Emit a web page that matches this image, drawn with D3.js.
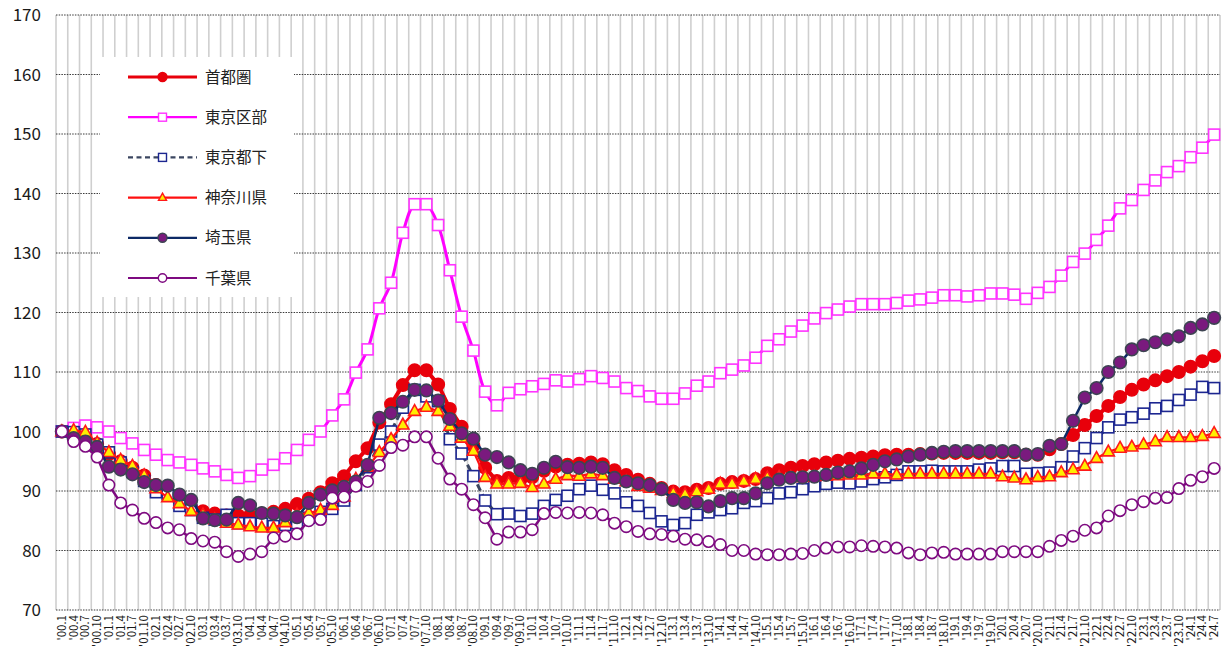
<!DOCTYPE html>
<html><head><meta charset="utf-8">
<script src="https://cdn.jsdelivr.net/npm/d3@7"></script>
<style>body{margin:0;background:#fff}svg{display:block}</style>
</head><body><svg id="c" width="1226" height="661"></svg>
<script>
const labels = ["'00.1","'00.4","'00.7","'00.10","'01.1","'01.4","'01.7","'01.10","'02.1","'02.4","'02.7","'02.10","'03.1","'03.4","'03.7","'03.10","'04.1","'04.4","'04.7","'04.10","'05.1","'05.4","'05.7","'05.10","'06.1","'06.4","'06.7","'06.10","'07.1","'07.4","'07.7","'07.10","'08.1","'08.4","'08.7","'08.10","'09.1","'09.4","'09.7","'09.10","'10.1","'10.4","'10.7","'10.10","'11.1","'11.4","'11.7","'11.10","'12.1","'12.4","'12.7","'12.10","'13.1","'13.4","'13.7","'13.10","'14.1","'14.4","'14.7","'14.10","'15.1","'15.4","'15.7","'15.10","'16.1","'16.4","'16.7","'16.10","'17.1","'17.4","'17.7","'17.10","'18.1","'18.4","'18.7","'18.10","'19.1","'19.4","'19.7","'19.10","'20.1","'20.4","'20.7","'20.10","'21.1","'21.4","'21.7","'21.10","'22.1","'22.4","'22.7","'22.10","'23.1","'23.4","'23.7","'23.10","'24.1","'24.4","'24.7"];
const yTicks = [70,80,90,100,110,120,130,140,150,160,170];

const shutoken = [100,99.9,99.4,97.9,96.2,95.0,93.9,92.6,91.0,89.5,88.4,87.2,86.6,86.2,85.9,85.9,85.9,86.2,86.5,87.0,87.8,88.7,89.8,91.3,92.5,95.0,97.2,101.5,104.6,107.8,110.3,110.3,107.9,103.8,100.8,97.6,93.9,91.7,92.2,91.9,92.3,93.4,94.1,94.4,94.6,94.8,94.5,93.5,92.7,91.9,91.2,90.5,89.9,89.8,90.2,90.5,91.2,91.5,91.7,92.0,93.0,93.5,93.9,94.2,94.5,94.8,95.1,95.4,95.6,95.8,96.0,96.1,96.1,96.2,96.3,96.4,96.4,96.4,96.4,96.4,96.5,96.5,96.1,96.1,97.0,97.9,99.4,101.1,102.6,104.3,105.8,107.0,107.9,108.6,109.3,110.0,110.9,111.8,112.7];
const kubu = [100,100.6,101.0,100.7,100.0,98.9,98.0,96.9,96.1,95.2,94.8,94.4,93.8,93.3,92.7,92.2,92.5,93.6,94.4,95.5,96.9,98.6,100.0,102.7,105.4,109.9,113.8,120.7,125.0,133.4,138.2,138.2,134.7,127.1,119.3,113.6,106.7,104.4,106.5,107.1,107.6,108.0,108.6,108.4,108.8,109.3,109.0,108.4,107.3,106.8,105.9,105.5,105.5,106.4,107.7,108.4,109.8,110.4,111.1,112.4,114.4,115.5,116.8,117.8,119.0,119.9,120.5,121.0,121.4,121.4,121.4,121.6,122.0,122.2,122.5,122.9,122.9,122.7,122.9,123.2,123.2,123.0,122.3,123.3,124.3,126.2,128.5,129.9,132.2,134.6,137.5,138.9,140.6,142.2,143.6,144.6,146.1,147.7,149.9];
const tokai = [100,99.9,99.5,97.8,96.5,94.8,93.2,91.7,89.8,89.5,87.5,86.8,85.5,85.2,86.0,84.6,84.6,84.5,84.1,84.3,84.6,85.5,86.5,87.0,88.4,91.0,94.0,97.8,100.0,104.0,107.0,105.9,105.1,98.7,96.3,92.5,88.4,86.1,86.2,85.8,86.2,87.5,88.5,89.2,90.3,90.9,90.2,89.6,88.1,87.5,86.3,84.9,84.3,84.6,86.0,86.4,86.8,87.1,88.0,88.3,88.8,89.6,89.8,90.3,90.8,91.2,91.4,91.3,91.6,92.0,92.3,92.7,93.3,93.3,93.4,93.3,93.3,93.3,93.6,93.8,94.2,94.2,92.9,93.0,93.1,94.0,95.8,97.2,98.9,100.7,102.0,102.4,103.0,103.9,104.3,105.3,106.2,107.5,107.3];
const kanagawa = [100,100.2,99.9,98.1,96.5,95.2,94.2,92.6,90.4,88.9,87.9,86.6,86.0,85.2,84.6,84.3,84.0,83.8,83.8,84.7,86.0,86.3,86.8,87.6,89.0,92.0,94.0,96.5,98.7,101.1,103.4,104.1,103.4,100.9,98.9,96.7,92.3,91.2,91.2,91.3,90.6,91.2,92.0,92.6,92.5,92.9,92.6,92.0,91.6,90.8,90.5,90.1,89.6,89.4,89.9,90.3,91.2,91.2,91.6,92.0,92.2,92.3,92.3,92.3,92.4,92.5,92.6,92.7,92.7,92.9,92.9,92.7,92.9,92.9,92.9,92.9,92.9,92.9,92.9,92.9,92.4,92.2,91.9,92.3,92.4,93.1,93.6,94.2,95.5,96.6,97.2,97.4,97.8,98.3,99.0,99.0,99.0,99.2,99.7];
const saitama = [100,98.9,98.3,97.4,94.1,93.6,92.8,91.5,91.0,90.9,89.4,88.5,85.4,85.1,85.2,88.0,87.6,86.3,86.2,85.9,85.6,88.0,89.4,90.1,90.7,91.6,94.4,102.3,103.1,105.0,107.0,106.9,105.2,102.1,99.7,98.8,96.1,95.7,94.8,93.5,92.9,93.9,94.9,94.0,93.9,94.1,93.9,92.2,91.6,91.3,91.0,90.3,88.5,88.0,88.1,87.4,88.3,88.8,88.8,89.6,91.3,91.9,92.2,92.3,92.4,92.7,93.1,93.3,93.8,94.4,95.0,95.3,95.8,96.1,96.4,96.6,96.7,96.7,96.7,96.7,96.7,96.7,96.1,96.2,97.6,97.9,101.8,105.7,107.3,110.0,111.6,113.8,114.5,115.0,115.5,116.0,117.4,118.0,119.1];
const chiba = [100,98.3,97.5,95.7,91.0,88.0,86.8,85.4,84.7,83.8,83.5,82.0,81.6,81.4,79.8,79.0,79.4,79.8,82.1,82.4,82.8,85.0,85.2,88.8,89.0,90.8,91.6,94.3,97.3,97.7,99.1,99.1,95.5,92.0,90.3,87.7,85.5,81.9,83.1,83.1,83.5,86.2,86.4,86.3,86.4,86.3,86.0,84.6,84.0,83.2,82.8,82.7,82.4,81.9,81.8,81.5,81.0,80.0,80.0,79.4,79.3,79.3,79.4,79.5,80.0,80.4,80.6,80.6,80.8,80.7,80.6,80.4,79.6,79.3,79.6,79.7,79.4,79.4,79.4,79.4,79.8,79.8,79.8,79.8,80.7,81.7,82.4,83.4,83.8,85.8,86.7,87.7,88.2,88.8,88.9,90.4,91.8,92.4,93.8];

const seriesNames = ["首都圏","東京区部","東京都下","神奈川県","埼玉県","千葉県"];

const svg = d3.select("#c");
const L=56, R=1220, T=15, B=610;
const x = d3.scaleBand().domain(labels).range([L,R]).paddingInner(0).paddingOuter(0);
const y = d3.scaleLinear().domain([70,170]).range([B,T]);
const cx = d => x(d) + x.bandwidth()/2;
const FONT = "'Noto Sans CJK JP','Noto Sans',sans-serif";

svg.append("rect").attr("width",1226).attr("height",661).attr("fill","#fff");

// vertical gridlines
const g = svg.append("g");
const bounds = labels.map(l=>x(l)).concat([R]);
g.selectAll("line.v").data(bounds).join("line")
  .attr("x1",d=>d).attr("x2",d=>d).attr("y1",T).attr("y2",B)
  .attr("stroke","#cfcfcf").attr("stroke-width",1.6);
// horizontal gridlines
g.selectAll("line.h").data(yTicks).join("line")
  .attr("x1",L).attr("x2",R).attr("y1",d=>y(d)).attr("y2",d=>y(d))
  .attr("stroke","#3a3a3a").attr("stroke-width",1).attr("stroke-dasharray","1.5,1.2");

// y axis labels
svg.append("g").selectAll("text").data(yTicks).join("text")
  .attr("x",41).attr("y",d=>y(d)).attr("dy","0.36em")
  .attr("text-anchor","end").attr("font-family",FONT).attr("font-size",17)
  .attr("fill","#1a1a1a").text(d=>d);

// x axis labels
svg.append("g").selectAll("text").data(labels).join("text")
  .attr("transform",d=>`translate(${cx(d)+4},${B+5}) rotate(-90)`)
  .attr("text-anchor","end").attr("font-family",FONT).attr("font-size",11.5)
  .attr("fill","#1a1a1a").text(d=>d);

const styles = [
  {data:shutoken, line:"#e8000b", lw:4, dash:null, curve:d3.curveLinear, mk:"circle", fill:"#e8000b", stroke:"#e8000b", size:6.2, lsize:4.5},
  {data:kubu, line:"#ff00ff", lw:3, dash:null, curve:d3.curveCatmullRom, mk:"square", fill:"#fff", stroke:"#ff33ff", size:11, lsize:8},
  {data:tokai, line:"#3b4660", lw:3, dash:"7,4", curve:d3.curveLinear, mk:"square", fill:"#fff", stroke:"#1c2690", size:11, lsize:8},
  {data:kanagawa, line:"#ff1010", lw:2.2, dash:null, curve:d3.curveLinear, mk:"triangle", fill:"#ffee00", stroke:"#ff1a1a", size:12, lsize:8},
  {data:saitama, line:"#0d2a66", lw:2.5, dash:null, curve:d3.curveLinear, mk:"circle", fill:"#7a1a7e", stroke:"#3d4452", size:6.3, lsize:4.5},
  {data:chiba, line:"#7e0a80", lw:2.5, dash:null, curve:d3.curveLinear, mk:"circle", fill:"#fff", stroke:"#7e0a80", size:5.7, lsize:4.2}
];

function marker(sel, s, px, py, sz, sw){
  if(s.mk==="circle"){
    sel.append("circle").attr("cx",px).attr("cy",py).attr("r",sz)
      .attr("fill",s.fill).attr("stroke",s.stroke).attr("stroke-width",sw);
  } else if(s.mk==="square"){
    sel.append("rect").attr("x",px-sz/2).attr("y",py-sz/2).attr("width",sz).attr("height",sz)
      .attr("fill",s.fill).attr("stroke",s.stroke).attr("stroke-width",sw);
  } else {
    const h = sz*0.9;
    sel.append("path").attr("d",`M${px},${py-h*0.62}L${px+sz/2},${py+h*0.38}L${px-sz/2},${py+h*0.38}Z`)
      .attr("fill",s.fill).attr("stroke",s.stroke).attr("stroke-width",sw);
  }
}

const plot = svg.append("g");
styles.forEach(s=>{
  const gs = plot.append("g");
  const line = d3.line().x((d,i)=>cx(labels[i])).y(d=>y(d)).curve(s.curve);
  gs.append("path").attr("d",line(s.data)).attr("fill","none")
    .attr("stroke",s.line).attr("stroke-width",s.lw)
    .attr("stroke-dasharray",s.dash).attr("stroke-linejoin","round");
  s.data.forEach((v,i)=>marker(gs,s,cx(labels[i]),y(v),s.size,1.6));
});

// legend
const lg = svg.append("g");
lg.append("rect").attr("x",100).attr("y",57).attr("width",194).attr("height",240).attr("fill","#fff");
styles.forEach((s,i)=>{
  const ly = 77 + i*40.2;
  lg.append("line").attr("x1",128).attr("x2",197).attr("y1",ly).attr("y2",ly)
    .attr("stroke",s.line).attr("stroke-width",s.lw===4?3.2:2.2)
    .attr("stroke-dasharray",s.dash?"5,3.5":null);
  marker(lg,s,162.5,ly,s.lsize,1.4);
  lg.append("text").attr("x",205).attr("y",ly).attr("dy","0.36em")
    .attr("font-family",FONT).attr("font-size",15.5).attr("fill","#222").text(seriesNames[i]);
});
</script></body></html>
